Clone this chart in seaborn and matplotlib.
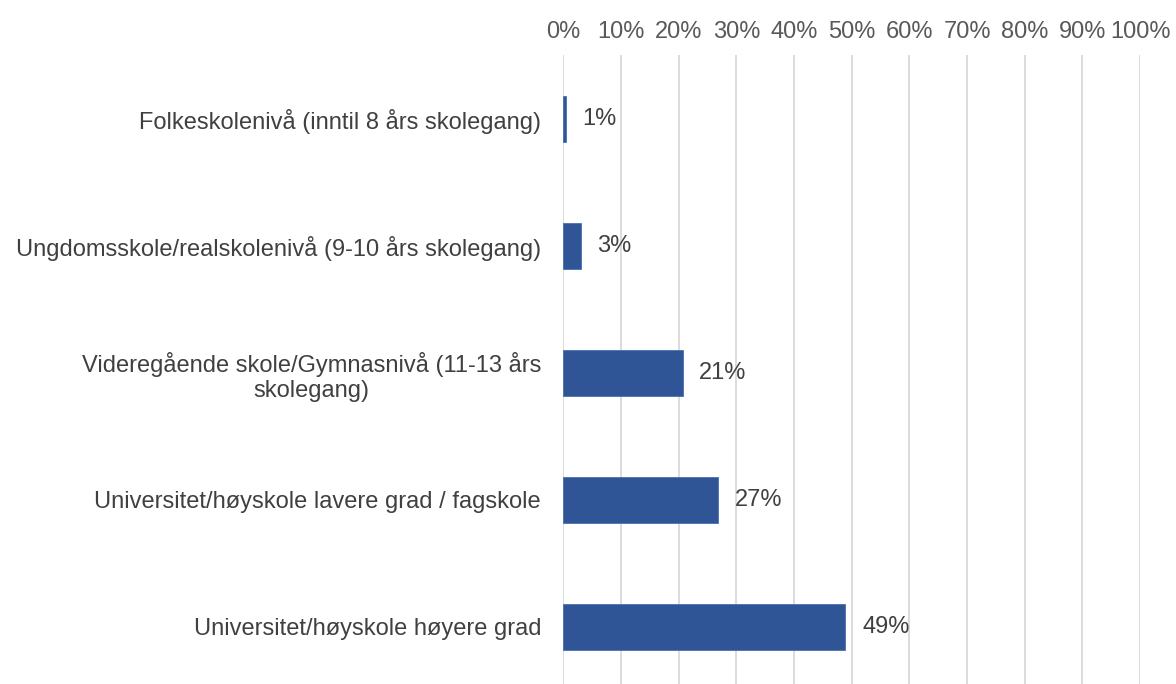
import matplotlib
matplotlib.use("Agg")
import matplotlib.pyplot as plt
import seaborn as sns
import pandas as pd

categories = [
    "Folkeskolenivå (inntil 8 års skolegang)",
    "Ungdomsskole/realskolenivå (9-10 års skolegang)",
    "Videregående skole/Gymnasnivå (11-13 års\nskolegang)",
    "Universitet/høyskole lavere grad / fagskole",
    "Universitet/høyskole høyere grad",
]
values = [0.4, 3.0, 20.7, 26.9, 48.9]
labels = ["1%", "3%", "21%", "27%", "49%"]
xticks = list(range(0, 101, 10))
xticklabels = [f"{t}%" for t in xticks]

sns.set_theme(style="white")
plt.rcParams["font.family"] = ["Liberation Sans", "DejaVu Sans"]

df = pd.DataFrame({"cat": categories, "val": values})

fig = plt.figure(figsize=(11.76, 6.84), dpi=100)
ax = fig.add_axes([0.479, -0.0095, 0.4905, 0.9284])

sns.barplot(data=df, y="cat", x="val", orient="h", color="#2F5597",
            saturation=1, width=0.355, ax=ax, edgecolor="#4A6FB0", linewidth=0.6)

fs = 17
ax.set_xlim(0, 100)
ax.set_xticks(xticks)
ax.set_xticklabels(xticklabels, fontsize=fs, color="#595959")
ax.xaxis.tick_top()
ax.tick_params(axis="x", length=0, pad=9)
ax.tick_params(axis="y", length=0, pad=16, labelsize=fs, labelcolor="#404040")
for t in ax.get_yticklabels():
    t.set_multialignment("center")
ax.set_xlabel("")
ax.set_ylabel("")
ax.grid(axis="x", color="#D9D9D9", linewidth=1.3)
ax.set_axisbelow(True)
for s in ax.spines.values():
    s.set_visible(False)

for i, (v, lab) in enumerate(zip(values, labels)):
    ax.annotate(lab, xy=(v, i), xytext=(12, 0), textcoords="offset points",
                va="center", ha="left", fontsize=fs, color="#404040")

fig.savefig("out.png", dpi=100)
